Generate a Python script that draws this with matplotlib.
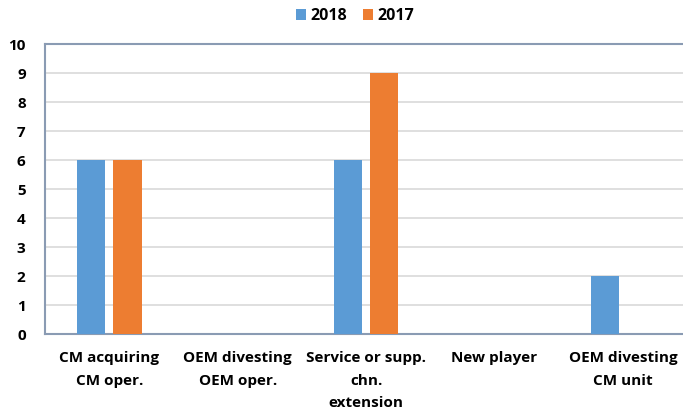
import matplotlib.pyplot as plt
import numpy as np

categories = ["CM acquiring\nCM oper.", "OEM divesting\nOEM oper.",
              "Service or supp.\nchn.\nextension", "New player",
              "OEM divesting\nCM unit"]
vals_2018 = [6, 0, 6, 0, 2]
vals_2017 = [6, 0, 9, 0, 0]
yticks = list(range(0, 11))

blue = '#5B9BD5'
orange = '#ED7D31'
frame = '#8A9BB3'

plt.rcParams['font.family'] = ['Open Sans', 'DejaVu Sans']
plt.rcParams['font.weight'] = 'bold'

fig = plt.figure(figsize=(6.83, 4.13), dpi=100)
ax = fig.add_axes([0.066, 0.191, 0.94, 0.702])

x = np.arange(len(categories))
w = 0.22
ax.bar(x - 0.141, vals_2018, w, color=blue, label='2018', zorder=3)
ax.bar(x + 0.141, vals_2017, w, color=orange, label='2017', zorder=3)

ax.set_xlim(-0.5, len(categories) - 0.5)
ax.set_ylim(0, 10)
ax.set_yticks(yticks)
ax.set_yticklabels([str(t) for t in yticks], fontsize=11, fontweight='bold')
ax.set_xticks(x)
ax.set_xticklabels(categories, fontsize=11, fontweight='bold', linespacing=1.8)
ax.tick_params(length=0, pad=12)
ax.tick_params(axis='y', pad=14)

ax.grid(axis='y', color='#D9D9D9', linewidth=1.2, zorder=0)
for s in ['top', 'left', 'bottom']:
    ax.spines[s].set_color(frame)
    ax.spines[s].set_linewidth(1.5)
ax.spines['right'].set_visible(False)

fig.legend(loc='upper center', bbox_to_anchor=(0.52, 1.015), ncol=2, frameon=False,
           prop={'size': 11.5, 'weight': 'bold'}, handlelength=0.65, handleheight=0.65,
           handletextpad=0.25, columnspacing=1.0)

fig.savefig('out.png', dpi=100)
